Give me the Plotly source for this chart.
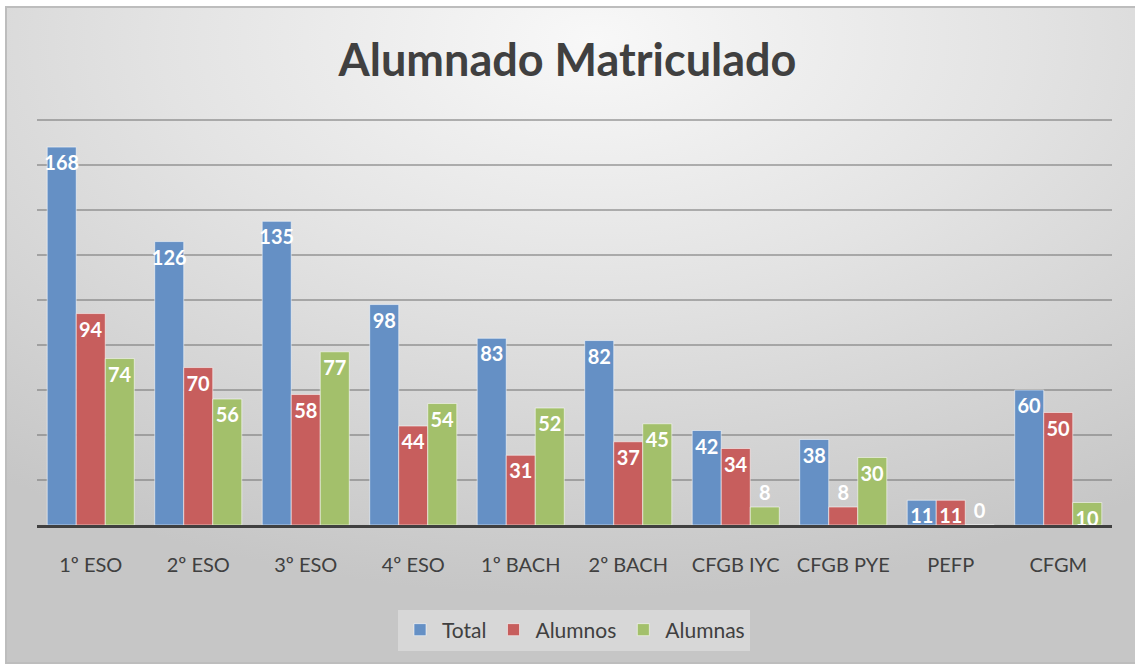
import base64
import plotly.graph_objects as go

# datos del gráfico
cursos = ["1º ESO", "2º ESO", "3º ESO", "4º ESO", "1º BACH", "2º BACH",
          "CFGB IYC", "CFGB PYE", "PEFP", "CFGM"]
total = [168, 126, 135, 98, 83, 82, 42, 38, 11, 60]
alumnos = [94, 70, 58, 44, 31, 37, 34, 8, 11, 50]
alumnas = [74, 56, 77, 54, 52, 45, 8, 30, 0, 10]

colores = {"Total": "#6590C5", "Alumnos": "#C75E5D", "Alumnas": "#A3C06B"}

W, H = 1135, 666
L, R, T, B = 37, 23, 119, 141

# fondo con degradado radial (como el estilo de Excel)
svg = f"""<svg xmlns='http://www.w3.org/2000/svg' width='{W}' height='{H}'>
<defs><radialGradient id='g' cx='0.52' cy='0.05' r='0.85'>
<stop offset='0' stop-color='#F8F8F8'/>
<stop offset='0.45' stop-color='#E3E3E3'/>
<stop offset='1' stop-color='#C6C6C6'/>
</radialGradient></defs>
<rect x='0' y='0' width='{W}' height='{H}' fill='white'/>
<rect x='6' y='7' width='{W - 5}' height='{H - 10}' fill='url(#g)' stroke='#BDBDBD' stroke-width='2'/>
</svg>"""
fondo = "data:image/svg+xml;base64," + base64.b64encode(svg.encode()).decode()

fig = go.Figure()
for nombre, vals in [("Total", total), ("Alumnos", alumnos), ("Alumnas", alumnas)]:
    fig.add_trace(go.Bar(
        x=cursos, y=vals, name=nombre, text=vals,
        textposition=["inside" if v >= 10 else "outside" for v in vals],
        insidetextanchor="end", textangle=0,
        textfont=dict(color="white", size=20, family="Lato", weight="bold"),
        outsidetextfont=dict(color="white", size=20, family="Lato", weight="bold"),
        constraintext="none", cliponaxis=False,
        marker=dict(color=colores[nombre], line=dict(color="rgba(255,255,255,0.55)", width=1)),
    ))

pw, ph = W - L - R, H - T - B
fig.add_layout_image(dict(
    source=fondo, xref="paper", yref="paper",
    x=-L / pw, y=1 + T / ph, sizex=W / pw, sizey=H / ph,
    sizing="stretch", xanchor="left", yanchor="top", layer="below",
))

fig.update_layout(
    width=W, height=H,
    margin=dict(l=L, r=R, t=T, b=B),
    paper_bgcolor="white", plot_bgcolor="rgba(0,0,0,0)",
    barmode="group", bargap=0.19, bargroupgap=0,
    title=dict(text="<b>Alumnado Matriculado</b>", x=0.5, xanchor="center",
               y=1 - 60 / H, yanchor="middle",
               font=dict(family="Lato", size=45, color="#404040")),
    font=dict(family="Lato", color="#404040"),
    legend=dict(orientation="h", x=(574 - L) / pw, xanchor="center",
                y=-(630 - (H - B)) / ph, yanchor="middle",
                bgcolor="rgba(255,255,255,0.3)", font=dict(size=21, color="#404040"),
                itemwidth=34, traceorder="normal"),
    showlegend=True,
)
fig.update_xaxes(showline=True, linecolor="#404040", linewidth=3, ticks="",
                 tickfont=dict(size=20, color="#404040"), ticklabelstandoff=20,
                 showgrid=False)
fig.update_yaxes(range=[0, 180.5], dtick=20, showticklabels=False,
                 gridcolor="rgba(120,120,120,0.55)", gridwidth=1.5, zeroline=False)

# quitar el margen del body para que la figura quede en (0,0)
fig.write_html("out.html", config={"displayModeBar": False},
               post_script="document.body.style.margin='0';")
